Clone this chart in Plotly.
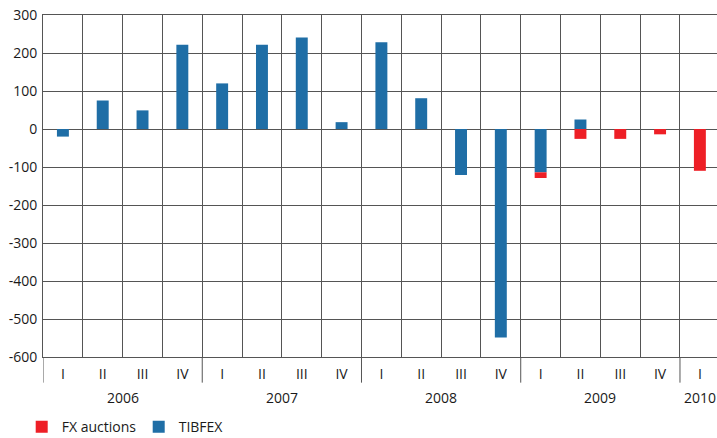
import plotly.graph_objects as go

quarters = ["I", "II", "III", "IV"] * 4 + ["I"]
years = ["2006"] * 4 + ["2007"] * 4 + ["2008"] * 4 + ["2009"] * 4 + ["2010"]
tibfex = [-20, 75, 49, 222, 120, 222, 241, 18, 228, 81, -121, -549, -114, 25, 0, 0, 0]
fx_auctions = [0, 0, 0, 0, 0, 0, 0, 0, 0, 0, 0, 0, -15, -26, -26, -14, -110]
y_ticks = [300, 200, 100, 0, -100, -200, -300, -400, -500, -600]

BLUE = "#1f6ea6"
RED = "#ee1f26"
GRID = "#555555"
TEXT = "#1a1a1a"
FONT = "Open Sans"

idx = list(range(len(quarters)))

fig = go.Figure()
fig.add_trace(go.Bar(x=idx, y=tibfex, name="TIBFEX",
                     marker=dict(color=BLUE, line=dict(width=0)), width=0.3, legendrank=2))
fig.add_trace(go.Bar(x=idx, y=fx_auctions, name="FX auctions",
                     marker=dict(color=RED, line=dict(width=0)), width=0.3, legendrank=1))

# year groups
groups = []
for i, y in enumerate(years):
    if not groups or groups[-1][0] != y:
        groups.append([y, i, i])
    else:
        groups[-1][2] = i

for y, s, e in groups:
    fig.add_annotation(x=(s + e) / 2, xref="x", y=-0.119, yref="paper",
                       text=y, showarrow=False, yanchor="middle", xanchor="center",
                       font=dict(family=FONT, size=14, color=TEXT))
    fig.add_shape(type="line", xref="x", yref="paper", x0=s - 0.5, x1=s - 0.5,
                  y0=0, y1=-0.075, line=dict(color=GRID, width=1))

fig.update_layout(
    width=717, height=438,
    margin=dict(l=43, r=0, t=15, b=81, autoexpand=False),
    barmode="relative",
    plot_bgcolor="white", paper_bgcolor="white",
    font=dict(family=FONT, size=14, color=TEXT),
    showlegend=True,
    legend=dict(orientation="h", x=-0.0316, xanchor="left", y=-0.205, yanchor="middle",
                font=dict(size=14), itemwidth=30, entrywidth=72, entrywidthmode="pixels",
                bgcolor="rgba(0,0,0,0)"),
)
fig.update_xaxes(
    range=[-0.5, 16.43], automargin=False,
    tickvals=idx, ticktext=quarters,
    showgrid=False,
    minor=dict(tickvals=[i - 0.5 for i in idx], showgrid=True, gridcolor=GRID, gridwidth=1, ticks=""),
    showline=True, linecolor=GRID, linewidth=1, mirror=True,
    zeroline=False,
    ticks="outside", ticklen=4, tickcolor="rgba(0,0,0,0)",
    tickfont=dict(size=14, color=TEXT),
)
fig.update_yaxes(
    range=[-600, 300], automargin=False,
    tickvals=y_ticks, ticktext=[str(v) for v in y_ticks],
    showgrid=True, gridcolor=GRID, gridwidth=1,
    zeroline=True, zerolinecolor=GRID, zerolinewidth=1,
    showline=True, linecolor=GRID, linewidth=1,
    ticks="outside", ticklen=2, tickcolor="rgba(0,0,0,0)",
    tickfont=dict(size=14, color=TEXT),
)

fig.write_html("out.html", config={"displayModeBar": False},
               post_script="document.body.style.margin='0';")
